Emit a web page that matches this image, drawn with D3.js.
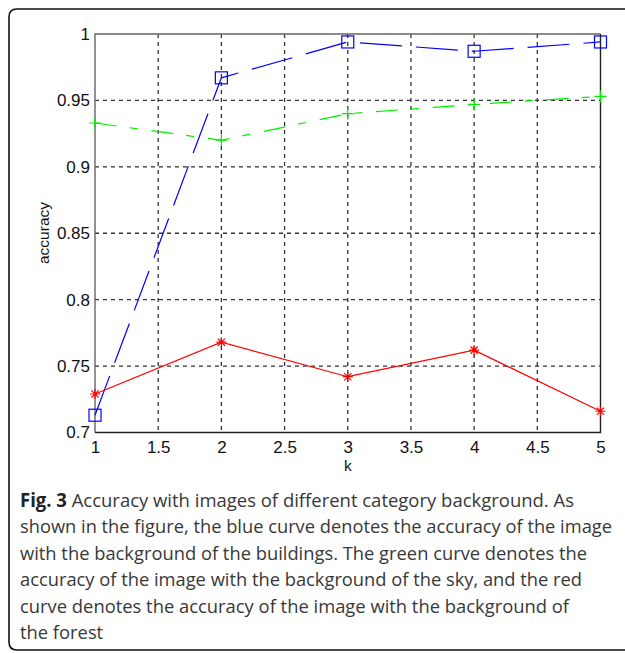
<!DOCTYPE html>
<html>
<head>
<meta charset="utf-8">
<script src="https://d3js.org/d3.v7.min.js"></script>
<style>
  html, body { margin: 0; padding: 0; background: #fff; }
  svg { display: block; }
</style>
</head>
<body>
<script>
// k values on the x axis
const kValues = [1, 2, 3, 4, 5];
// accuracy per background category
const buildings = [0.713, 0.967, 0.994, 0.987, 0.994];
const sky = [0.933, 0.920, 0.940, 0.947, 0.953];
const forest = [0.729, 0.768, 0.742, 0.762, 0.716];
// tick labels
const xTicks = [1, 1.5, 2, 2.5, 3, 3.5, 4, 4.5, 5];
const yTicks = [0.7, 0.75, 0.8, 0.85, 0.9, 0.95, 1];
// caption lines
const captionLines = [
  ["Fig. 3", " Accuracy with images of different category background. As"],
  ["", "shown in the figure, the blue curve denotes the accuracy of the image"],
  ["", "with the background of the buildings. The green curve denotes the"],
  ["", "accuracy of the image with the background of the sky, and the red"],
  ["", "curve denotes the accuracy of the image with the background of"],
  ["", "the forest"]
];
// right edge of each full caption line
const captionEnds = [574, 612, 587, 582, 569, null];

const W = 625, H = 653;
const svg = d3.select("body").append("svg").attr("width", W).attr("height", H);

// rounded frame around the figure
svg.append("path")
  .attr("d", `M ${W + 5} 9 L 17 9 Q 9 9 9 17 L 9 642 Q 9 650 17 650 L ${W + 5} 650`)
  .attr("fill", "none").attr("stroke", "#111").attr("stroke-width", 1.6);

const plot = { left: 95, right: 600.5, top: 34, bottom: 432.5 };
const x = d3.scaleLinear().domain([1, 5]).range([plot.left, plot.right]);
const y = d3.scaleLinear().domain([0.7, 1]).range([plot.bottom, plot.top]);

// grid
const grid = svg.append("g");
grid.selectAll("line.vx").data(xTicks.slice(1, -1)).join("line")
  .attr("x1", d => x(d)).attr("x2", d => x(d))
  .attr("y1", plot.top).attr("y2", plot.bottom)
  .attr("stroke", "#333").attr("stroke-width", 1.3).attr("stroke-dasharray", "4,4");
grid.selectAll("line.hy").data(yTicks.slice(1, -1)).join("line")
  .attr("y1", d => y(d)).attr("y2", d => y(d))
  .attr("x1", plot.left).attr("x2", plot.right)
  .attr("stroke", "#333").attr("stroke-width", 1.3).attr("stroke-dasharray", "4,4");

// axes
const xAxis = d3.axisBottom(x).tickValues(xTicks).tickSize(0).tickPadding(8)
  .tickFormat(d3.format("~g"));
const yAxis = d3.axisLeft(y).tickValues(yTicks).tickSize(0).tickPadding(5)
  .tickFormat(d3.format("~g"));
const gx = svg.append("g").attr("transform", `translate(0,${plot.bottom})`).call(xAxis);
const gy = svg.append("g").attr("transform", `translate(${plot.left},0)`).call(yAxis);
[gx, gy].forEach(g => {
  g.select(".domain").remove();
  g.selectAll("text").attr("font-family", "Liberation Sans, Arial, sans-serif")
    .attr("font-size", 17).attr("fill", "#111");
});

// plot box: lighter top/left edges, darker right/bottom edges
const box = svg.append("g").attr("fill", "none").attr("stroke-width", 1.4);
box.append("path").attr("d", `M ${plot.left} ${plot.bottom} V ${plot.top} H ${plot.right}`)
  .attr("stroke", "#666");
box.append("path").attr("d", `M ${plot.right} ${plot.top} V ${plot.bottom} H ${plot.left}`)
  .attr("stroke", "#222");

// axis labels
svg.append("text").attr("x", (plot.left + plot.right) / 2).attr("y", 471)
  .attr("text-anchor", "middle").attr("font-family", "Liberation Sans, Arial, sans-serif")
  .attr("font-size", 15.5).attr("fill", "#111").text("k");
svg.append("text").attr("transform", "translate(49,233) rotate(-90)")
  .attr("text-anchor", "middle").attr("font-family", "Liberation Sans, Arial, sans-serif")
  .attr("font-size", 15.5).attr("fill", "#111").text("accuracy");

const line = d3.line().x((d, i) => x(kValues[i])).y(d => y(d));

// buildings: blue long dashes with square markers
svg.append("path").datum(buildings).attr("d", line)
  .attr("fill", "none").attr("stroke", "#0000ff").attr("stroke-width", 1.2)
  .attr("stroke-dasharray", "42,14");
svg.selectAll("rect.mk").data(buildings).join("rect")
  .attr("x", (d, i) => x(kValues[i]) - 6).attr("y", d => y(d) - 6)
  .attr("width", 12).attr("height", 12)
  .attr("fill", "none").attr("stroke", "#0000ff").attr("stroke-width", 1.2);

// sky: green dash-dot with plus markers
svg.append("path").datum(sky).attr("d", line)
  .attr("fill", "none").attr("stroke", "#00ee00").attr("stroke-width", 1.2)
  .attr("stroke-dasharray", "22,13,8,14");
const plus = svg.append("g");
sky.forEach((d, i) => {
  const cx = x(kValues[i]), cy = y(d);
  plus.append("path")
    .attr("d", `M ${cx - 6} ${cy} H ${cx + 6} M ${cx} ${cy - 6} V ${cy + 6}`)
    .attr("stroke", "#00ee00").attr("stroke-width", 1.2);
});

// forest: red solid with asterisk markers
svg.append("path").datum(forest).attr("d", line)
  .attr("fill", "none").attr("stroke", "#ff0000").attr("stroke-width", 1.2);
const star = svg.append("g");
forest.forEach((d, i) => {
  const cx = x(kValues[i]), cy = y(d), r = 5, s = 3.6;
  star.append("path")
    .attr("d", `M ${cx - r} ${cy} H ${cx + r} M ${cx} ${cy - r} V ${cy + r} ` +
      `M ${cx - s} ${cy - s} L ${cx + s} ${cy + s} M ${cx - s} ${cy + s} L ${cx + s} ${cy - s}`)
    .attr("stroke", "#ff0000").attr("stroke-width", 1.2);
});

// caption: full lines are fitted to their width, the short last line
// uses the mean horizontal scale of the others
const capX = 20;
const cap = svg.append("g")
  .attr("font-family", "'Open Sans', 'Noto Sans', sans-serif")
  .attr("font-size", 18.7).attr("fill", "#383838");
const texts = captionLines.map((parts, i) => {
  const t = cap.append("text").attr("x", capX).attr("y", 507 + i * 26.4);
  if (parts[0]) t.append("tspan").attr("font-weight", "bold").attr("fill", "#222").text(parts[0]);
  t.append("tspan").text(parts[1]);
  return t;
});
const ratios = [];
texts.forEach((t, i) => {
  const natural = t.node().getComputedTextLength();
  if (captionEnds[i] != null) ratios.push((captionEnds[i] - capX) / natural);
});
const meanRatio = d3.mean(ratios);
texts.forEach((t, i) => {
  const natural = t.node().getComputedTextLength();
  const target = captionEnds[i] != null ? captionEnds[i] - capX : natural * meanRatio;
  t.attr("textLength", target).attr("lengthAdjust", "spacingAndGlyphs");
});
</script>
</body>
</html>
